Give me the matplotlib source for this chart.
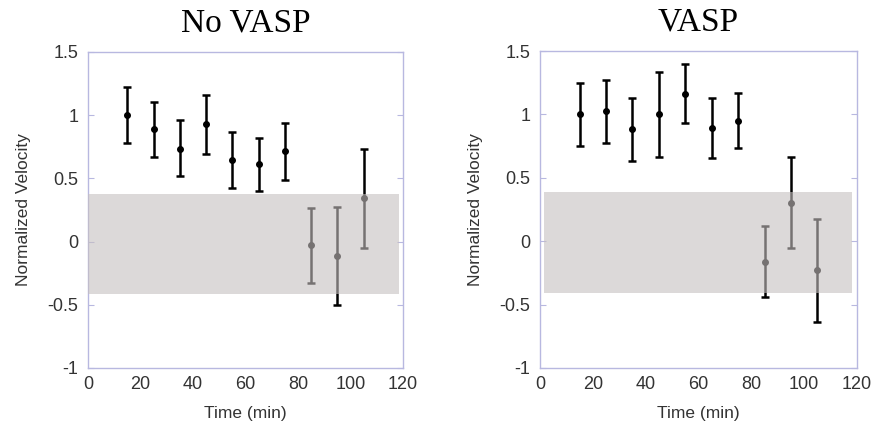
import numpy as np
import matplotlib.pyplot as plt

times = [15, 25, 35, 45, 55, 65, 75, 85, 95, 105]

# No VASP
noVaspMean = [1.0, 0.887, 0.734, 0.929, 0.645, 0.61, 0.716, -0.029, -0.113, 0.342]
noVaspTop = [1.22, 1.108, 0.96, 1.163, 0.866, 0.818, 0.942, 0.268, 0.274, 0.732]
noVaspBottom = [0.78, 0.668, 0.516, 0.692, 0.426, 0.403, 0.489, -0.324, -0.5, -0.047]
noVaspBand = (0.376, -0.418)

# VASP
vaspMean = [1.0, 1.023, 0.883, 1.0, 1.162, 0.896, 0.949, -0.163, 0.305, -0.231]
vaspTop = [1.25, 1.27, 1.133, 1.333, 1.396, 1.13, 1.165, 0.116, 0.662, 0.174]
vaspBottom = [0.75, 0.773, 0.631, 0.665, 0.931, 0.66, 0.736, -0.442, -0.053, -0.636]
vaspBand = (0.386, -0.405)

titles = ["No VASP", "VASP"]

plt.rcParams['font.family'] = ['Liberation Sans', 'DejaVu Sans']

fig = plt.figure(figsize=(8.72, 4.28), dpi=100)
ax1 = fig.add_axes([88/872, 60/428, 315/872, 316/428])
ax2 = fig.add_axes([540/872, 60/428, 317/872, 317/428])

spineColor = "#b8b8e0"
textColor = "#333333"

def drawPanel(ax, mean, top, bottom, band, bandX, title):
    mean = np.array(mean)
    yerr = [mean - np.array(bottom), np.array(top) - mean]
    ax.errorbar(times, mean, yerr=yerr, fmt='o', color='black', ecolor='black',
                markersize=4, elinewidth=1.8, capsize=3, capthick=1.8, zorder=2)
    # shaded band sits on top of the bars, so bars inside look grey
    ax.fill_between(bandX, band[1], band[0], color='#c6c0c0', alpha=0.6,
                    linewidth=0, zorder=3)
    ax.set_xlim(0, 120)
    ax.set_ylim(-1, 1.5)
    ax.set_xticks([0, 20, 40, 60, 80, 100, 120])
    ax.set_yticks([-1, -0.5, 0, 0.5, 1, 1.5])
    ax.set_yticklabels(["-1", "-0.5", "0", "0.5", "1", "1.5"])
    ax.tick_params(direction='in', length=4, color=spineColor, labelcolor=textColor,
                   labelsize=13, right=True, top=False)
    ax.tick_params(axis='y', pad=7)
    ax.tick_params(axis='x', length=0, pad=6)
    for s in ax.spines.values():
        s.set_color(spineColor)
        s.set_linewidth(1)
    ax.set_xlabel("Time (min)", color=textColor, fontsize=12.5, labelpad=9)
    ax.set_ylabel("Normalized Velocity", color=textColor, fontsize=12.5, labelpad=12)
    ax.set_title(title, family='Liberation Serif', fontsize=24, pad=15)

drawPanel(ax1, noVaspMean, noVaspTop, noVaspBottom, noVaspBand, [0, 118.5], titles[0])
drawPanel(ax2, vaspMean, vaspTop, vaspBottom, vaspBand, [1.5, 118], titles[1])

fig.savefig("out.png", dpi=100)
